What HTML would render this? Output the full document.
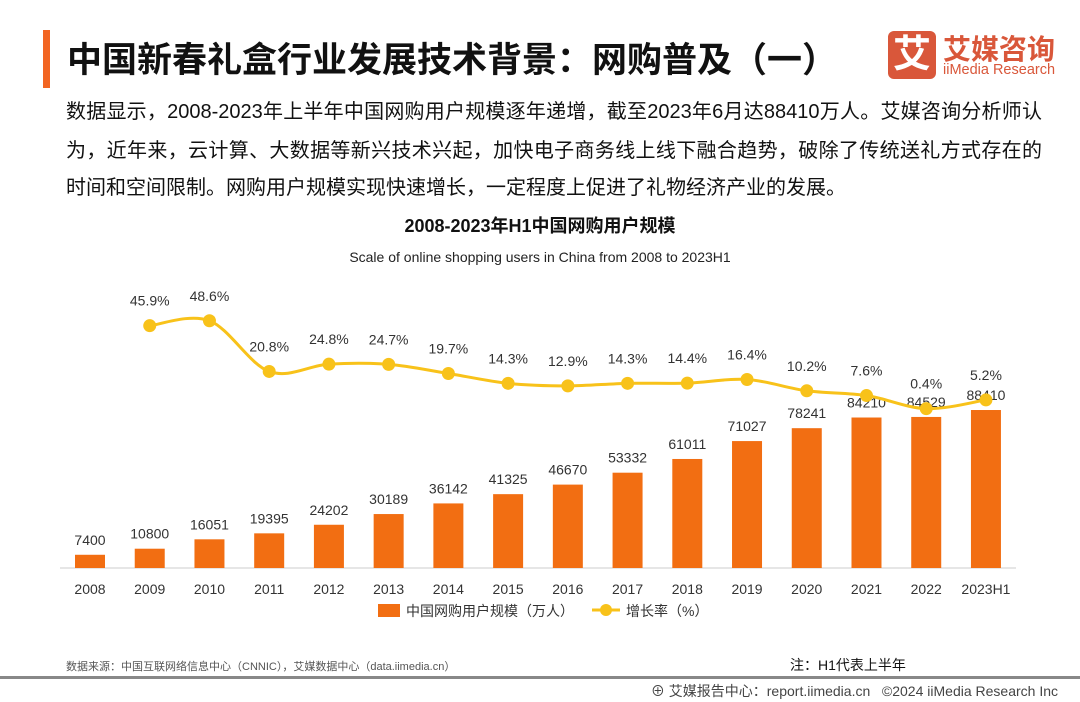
<!DOCTYPE html>
<html><head><meta charset="utf-8"><style>
body{margin:0;width:1080px;height:702px;background:#fff;font-family:"Liberation Sans","Noto Sans CJK SC",sans-serif;position:relative;overflow:hidden}
.a{position:absolute;white-space:nowrap}
.p{left:66px;width:976px;font-size:20px;color:#111;text-align:justify;text-align-last:justify}
</style></head><body>
<div class="a" style="left:43px;top:30px;width:7px;height:58px;background:#f26522"></div>
<div class="a" style="left:67px;top:32px;font-size:35px;font-weight:bold;color:#111">中国新春礼盒行业发展技术背景：网购普及（一）</div>
<div class="a" style="left:888px;top:31px;width:48px;height:48px;background:#d9573a;border-radius:6px;color:#fff;font-size:38px;font-weight:bold;text-align:center;line-height:48px">艾</div>
<div class="a" style="left:943px;top:28px;font-size:28px;font-weight:bold;color:#d9573a">艾媒咨询</div>
<div class="a" style="left:943px;top:62px;font-size:14.5px;color:#d9573a">iiMedia Research</div>
<div class="a p" style="top:95px">数据显示，2008-2023年上半年中国网购用户规模逐年递增，截至2023年6月达88410万人。艾媒咨询分析师认</div>
<div class="a p" style="top:134px">为，近年来，云计算、大数据等新兴技术兴起，加快电子商务线上线下融合趋势，破除了传统送礼方式存在的</div>
<div class="a" style="left:66px;top:171px;font-size:20px;color:#111">时间和空间限制。网购用户规模实现快速增长，一定程度上促进了礼物经济产业的发展。</div>
<svg class="a" style="left:0;top:0" width="1080" height="702">
<text x="540" y="232" text-anchor="middle" font-size="18" font-weight="bold" fill="#111">2008-2023年H1中国网购用户规模</text>
<text x="540" y="262" text-anchor="middle" font-size="14" fill="#222">Scale of online shopping users in China from 2008 to 2023H1</text>
<line x1="60" y1="568" x2="1016" y2="568" stroke="#ccc"/>
<g id="g"></g>
<rect x="378" y="604" width="22" height="13" fill="#f26e12"/>
<text x="406" y="616" font-size="14" fill="#333">中国网购用户规模（万人）</text>
<line x1="592" y1="610" x2="620" y2="610" stroke="#f8c21a" stroke-width="3"/>
<circle cx="606" cy="610" r="6" fill="#f8c21a"/>
<text x="626" y="616" font-size="14" fill="#333">增长率（%）</text>
</svg>
<div class="a" style="left:66px;top:658px;font-size:11px;color:#555">数据来源：中国互联网络信息中心（CNNIC），艾媒数据中心（data.iimedia.cn）</div>
<div class="a" style="left:790px;top:655px;font-size:14px;color:#111">注：H1代表上半年</div>
<div class="a" style="left:0;top:676px;width:1080px;height:3px;background:#888"></div>
<div class="a" style="right:22px;top:681px;font-size:14px;color:#444">⊕ 艾媒报告中心：report.iimedia.cn &nbsp;&nbsp;©2024 iiMedia Research Inc</div>
<script>
const categories=["2008","2009","2010","2011","2012","2013","2014","2015","2016","2017","2018","2019","2020","2021","2022","2023H1"];
const users=[7400,10800,16051,19395,24202,30189,36142,41325,46670,53332,61011,71027,78241,84210,84529,88410];
const rates=[null,45.9,48.6,20.8,24.8,24.7,19.7,14.3,12.9,14.3,14.4,16.4,10.2,7.6,0.4,5.2];
const NS="http://www.w3.org/2000/svg",g=document.getElementById("g");
const X=i=>90+i*59.73,YB=v=>568-v*0.001787,YR=r=>409.4-r*1.824;
function mk(t,a,txt){const e=document.createElementNS(NS,t);for(const k in a)e.setAttribute(k,a[k]);if(txt!=null)e.textContent=txt;g.appendChild(e);return e;}
categories.forEach((c,i)=>{
const b=mk("rect",{x:X(i)-15,y:YB(users[i]),width:30,height:568-YB(users[i]),fill:"#f26e12"});


const v=mk("text",{x:X(i),y:YB(users[i])-10,"text-anchor":"middle","font-size":14,fill:"#333"},users[i]);


const t=mk("text",{x:X(i),y:594,"text-anchor":"middle","font-size":14,fill:"#333"},c);


});
const pts=[];rates.forEach((r,i)=>{if(r!=null)pts.push([X(i),YR(r),r,i]);});
let d="M"+pts[0][0]+","+pts[0][1];
for(let k=0;k<pts.length-1;k++){const p0=pts[Math.max(0,k-1)],p1=pts[k],p2=pts[k+1],p3=pts[Math.min(pts.length-1,k+2)];
const c1x=p1[0]+(p2[0]-p0[0])/6,c1y=p1[1]+(p2[1]-p0[1])/6,c2x=p2[0]-(p3[0]-p1[0])/6,c2y=p2[1]-(p3[1]-p1[1])/6;
d+=` C${c1x},${c1y} ${c2x},${c2y} ${p2[0]},${p2[1]}`;}
const ln=mk("path",{d:d,fill:"none",stroke:"#f8c21a","stroke-width":3});


pts.forEach(p=>{
const c=mk("circle",{cx:p[0],cy:p[1],r:6.5,fill:"#f8c21a"});


const t=mk("text",{x:p[0],y:p[1]-20,"text-anchor":"middle","font-size":14,fill:"#333"},p[2].toFixed(1)+"%");


});
</script>
</body></html>
